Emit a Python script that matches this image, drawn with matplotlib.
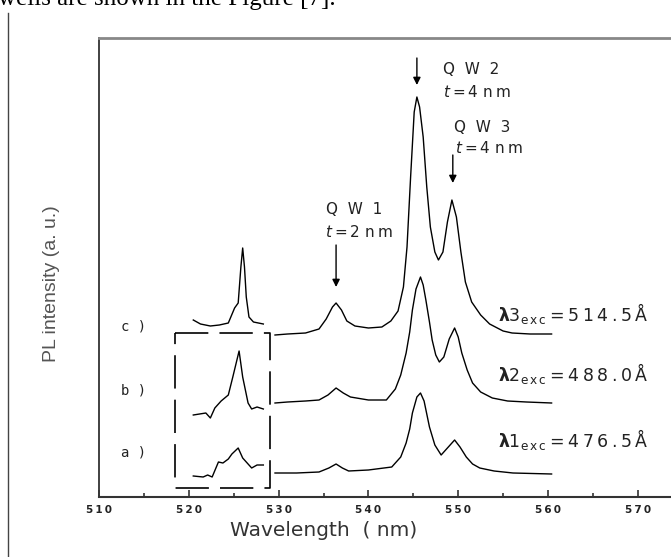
import matplotlib

matplotlib.use("Agg")
import matplotlib.pyplot as plt  # noqa: E402
from matplotlib.lines import Line2D  # noqa: E402

plt.rcParams["mathtext.fontset"] = "dejavusans"
plt.rcParams["lines.scale_dashes"] = False

TS = "\u2009"  # thin space, the scan's lettering is widely spaced

# ----- main spectra (nm, intensity a.u.) -----
c_wl = [529.6, 531.0, 533.0, 534.5, 535.3, 536.0, 536.4, 537.0, 537.6, 538.5,
        540.0, 541.5, 542.5, 543.3, 543.9, 544.3, 544.7, 545.1, 545.4, 545.7,
        546.1, 546.5, 546.9, 547.4, 547.8, 548.3, 548.8, 549.3, 549.8, 550.3,
        550.8, 551.5, 552.5, 553.5, 555.0, 556.0, 558.0, 560.4]
c_int = [162, 163, 164, 168, 178, 190, 194, 187, 176, 171,
         169, 170, 176, 186, 210, 250, 320, 385, 400, 390,
         360, 310, 270, 245, 237, 245, 275, 297, 280, 245,
         215, 195, 182, 173, 166, 164, 163, 163]

b_wl = [529.6, 531.0, 533.0, 534.5, 535.5, 536.4, 537.2, 538.0, 540.0, 542.0,
        543.0, 543.6, 544.2, 544.6, 544.9, 545.3, 545.8, 546.1, 546.4, 546.8,
        547.1, 547.5, 547.9, 548.4, 549.0, 549.6, 550.0, 550.4, 551.0, 551.6,
        552.5, 553.8, 555.5, 557.6, 560.4]
b_int = [94, 95, 96, 97, 102, 109, 104, 100, 97, 97,
         108, 122, 144, 165, 187, 208, 220, 212, 197, 175,
         157, 142, 135, 140, 158, 169, 160, 144, 127, 114,
         105, 99, 96, 95, 94]

a_wl = [529.6, 532.0, 534.5, 535.6, 536.4, 537.1, 537.8, 540.0, 542.6, 543.6,
        544.2, 544.6, 544.9, 545.4, 545.8, 546.2, 546.8, 547.4, 548.1, 548.8,
        549.6, 550.2, 550.9, 551.6, 552.4, 554.0, 556.1, 560.4]
a_int = [24, 24, 25, 29, 33, 29, 26, 27, 30, 40,
         54, 68, 84, 100, 104, 96, 70, 52, 42, 49,
         57, 50, 40, 33, 29, 26, 24, 23]

# ----- inset (expanded laser-line region) -----
ci_wl = [520.5, 521.3, 522.4, 523.4, 524.4, 525.1, 525.5, 525.8, 526.0, 526.2,
         526.4, 526.7, 527.2, 528.3]
ci_int = [177, 173, 171, 172, 174, 189, 194, 230, 249, 230,
          200, 180, 175, 173]

bi_wl = [520.5, 521.2, 521.9, 522.4, 522.9, 523.6, 524.4, 524.9, 525.6, 526.0,
         526.6, 527.0, 527.6, 528.3]
bi_int = [82, 83, 84, 79, 89, 96, 102, 120, 146, 120, 94, 88, 90, 88]

ai_wl = [520.5, 521.6, 522.1, 522.6, 523.3, 523.8, 524.4, 524.8, 525.5, 526.0,
         527.0, 527.6, 528.3]
ai_int = [21, 20, 22, 20, 35, 34, 38, 43, 49, 39, 29, 32, 32]

# dashed box around inset
box_x = [518.5, 529.0]
box_y = [9, 164]

xticks = [510, 520, 530, 540, 550, 560, 570]
xtick_labels = [TS.join(str(t)) for t in xticks]

exc_values = ["514.5", "488.0", "476.5"]
exc_index = ["3", "2", "1"]

W, H = 671, 557
fig = plt.figure(figsize=(W / 100, H / 100), dpi=100)
ax = fig.add_axes([99 / W, (H - 497) / H, (W - 99) / W, (497 - 38) / H])
ax.set_xlim(510, 510 + (W - 99) / 8.98)
ax.set_ylim(0, 459)

for xs, ys in [(c_wl, c_int), (b_wl, b_int), (a_wl, a_int),
               (ci_wl, ci_int), (bi_wl, bi_int), (ai_wl, ai_int)]:
    ax.plot(xs, ys, color="black", lw=1.0)

bx0, bx1 = box_x
by0, by1 = box_y
ax.plot([bx0, bx1, bx1, bx0, bx0], [by1, by1, by0, by0, by1],
        color="black", lw=1.2, dashes=(24, 8))

# spines / ticks
ax.spines["right"].set_visible(False)
ax.spines["top"].set_color("#888888")
ax.spines["top"].set_linewidth(2.0)
ax.spines["left"].set_color("#333333")
ax.spines["left"].set_linewidth(1.3)
ax.spines["bottom"].set_color("#333333")
ax.spines["bottom"].set_linewidth(1.5)
ax.set_yticks([])
ax.set_xticks(xticks)
ax.set_xticklabels(xtick_labels, fontsize=7.5, fontweight="bold", color="#222222")
ax.set_xticks([515, 525, 535, 545, 555, 565], minor=True)
ax.tick_params(axis="x", which="major", direction="in", length=5, width=1.2,
               pad=6, color="#333333")
ax.tick_params(axis="x", which="minor", direction="in", length=3, width=1.2,
               color="#333333")

# peak annotations
arrow = dict(arrowstyle="-|>", color="black", lw=1.0, mutation_scale=11,
             shrinkA=0, shrinkB=0)
ax.annotate("", xy=(545.4, 412), xytext=(545.4, 439), arrowprops=arrow)
ax.annotate("", xy=(549.4, 314), xytext=(549.4, 342), arrowprops=arrow)
ax.annotate("", xy=(536.4, 210), xytext=(536.4, 252), arrowprops=arrow)

lab = dict(fontsize=11, color="#222222", va="center", ha="left")
t_eq = r"$\it{t}$" + TS + "=" + TS
ax.text(548.3, 427, "Q  W  2", **lab)
ax.text(548.3, 405, t_eq + "4 n" + TS + "m", **lab)
ax.text(549.5, 370, "Q  W  3", **lab)
ax.text(549.6, 349, t_eq + "4 n" + TS + "m", **lab)
ax.text(535.3, 287, "Q  W  1", **lab)
ax.text(535.2, 265, t_eq + "2 n" + TS + "m", **lab)

for yv, s in [(170, "c )"), (106, "b )"), (44, "a )")]:
    ax.text(513.8, yv, s, fontsize=10, color="#222222", ha="center",
            va="center", family="DejaVu Sans Mono")

for yv, n, val in zip([184, 124, 57], exc_index, exc_values):
    ax.text(554.4, yv,
            r"$\mathbf{\lambda}$" + n + r"$_{\rm e\,x\,c}$" + TS + "=" + TS
            + TS.join(val) + TS + "Å",
            fontsize=12.5, color="#222222", ha="left", va="center")

fig.text(52 / W, 1 - 284 / H, "PL intensity (a. u.)", rotation=90,
         ha="center", va="center", fontsize=14, color="#555555",
         family=["Liberation Sans Narrow", "Liberation Sans", "DejaVu Sans"])
fig.text(324 / W, 1 - 531 / H, "Wavelength  ( nm)", ha="center", va="center",
         fontsize=14.5, color="#333333")

# page context: cut-off sentence above and margin rule
fig.text(-0.003, 1 - 5 / H, "wells are shown in the Figure [7].",
         ha="left", va="baseline", fontsize=18, color="black",
         family=["Liberation Serif", "DejaVu Serif"])
fig.add_artist(Line2D([8 / W, 8 / W], [0, 1 - 13 / H], transform=fig.transFigure,
                      color="#444444", lw=1.0))

fig.savefig("out.png", dpi=100)
